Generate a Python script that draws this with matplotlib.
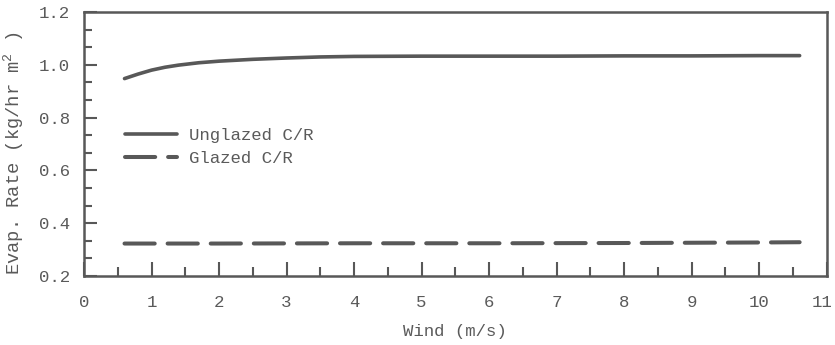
import matplotlib
matplotlib.use("Agg")
import matplotlib.pyplot as plt
from matplotlib.ticker import MultipleLocator

# values
wind_unglazed = [0.6, 0.8, 1.0, 1.2, 1.4, 1.7, 2.0, 2.5, 3.0, 3.5, 4.0, 5.0, 6.0, 7.0, 8.0, 9.0, 10.0, 10.6]
evap_unglazed = [0.948, 0.965, 0.980, 0.991, 0.999, 1.008, 1.014, 1.021, 1.026, 1.030, 1.032, 1.033, 1.033, 1.033, 1.034, 1.034, 1.035, 1.035]
wind_glazed = [0.6, 2.0, 4.0, 6.0, 8.0, 10.0, 10.6]
evap_glazed = [0.323, 0.323, 0.324, 0.324, 0.325, 0.327, 0.328]

x_ticks = list(range(0, 12))
x_labels = [str(v) for v in x_ticks]
y_ticks = [0.2, 0.4, 0.6, 0.8, 1.0, 1.2]
y_labels = ["0.2", "0.4", "0.6", "0.8", "1.0", "1.2"]

INK = "#585858"
TXT = "#5a5a5a"
FONT = "Liberation Mono"

plt.rcParams["font.family"] = FONT
plt.rcParams["mathtext.fontset"] = "custom"
plt.rcParams["mathtext.rm"] = FONT
plt.rcParams["mathtext.it"] = FONT
plt.rcParams["font.size"] = 12.5

fig = plt.figure(figsize=(8.35, 3.45), dpi=100)
ax = fig.add_axes([0.1006, 0.2, 0.8894, 0.765])

ax.plot(wind_unglazed, evap_unglazed, color=INK, linewidth=2.6,
        solid_capstyle="round", label="Unglazed C/R")
ax.plot(wind_glazed, evap_glazed, color=INK, linewidth=2.9,
        dash_capstyle="round", dashes=(7.5, 3.2), label="Glazed C/R")

ax.set_xlim(0, 11)
ax.set_ylim(0.2, 1.2)
ax.set_xticks(x_ticks)
# the last label ("11") is drawn by hand a bit to the left, like in the scan
ax.set_xticklabels(x_labels[:-1] + [""])
ax.xaxis.set_minor_locator(MultipleLocator(0.5))
ax.set_yticks(y_ticks)
ax.set_yticklabels(y_labels)
ax.yaxis.set_minor_locator(MultipleLocator(0.2 / 3))

for s in ax.spines.values():
    s.set_color(INK)
    s.set_linewidth(1.8)

ax.tick_params(axis="x", which="major", direction="in", length=10, width=1.5,
               color=INK, labelcolor=TXT, pad=14)
ax.tick_params(axis="x", which="minor", direction="in", length=6.5, width=1.5, color=INK)
ax.tick_params(axis="y", which="major", direction="in", length=9.5, width=1.5,
               color=INK, labelcolor=TXT, pad=10)
ax.tick_params(axis="y", which="minor", direction="in", length=6, width=1.5, color=INK)

ax.annotate(x_labels[-1], xy=(x_ticks[-1], 0), xycoords=("data", "axes fraction"),
            xytext=(-3, -14), textcoords="offset points", ha="center", va="top",
            color=TXT)

ax.set_xlabel("Wind (m/s)", color=TXT, labelpad=10)
ax.set_ylabel(r"Evap. Rate (kg/hr m$^{2}$ )", color=TXT, labelpad=9,
              fontsize=13.5, y=0.466)

leg = ax.legend(loc="upper left", bbox_to_anchor=(0.055, 0.562), frameon=False,
                borderpad=0, borderaxespad=0, handlelength=3.0, handletextpad=0.7,
                labelspacing=0.45)
for t in leg.get_texts():
    t.set_color(TXT)

fig.savefig("out.png", dpi=100)
